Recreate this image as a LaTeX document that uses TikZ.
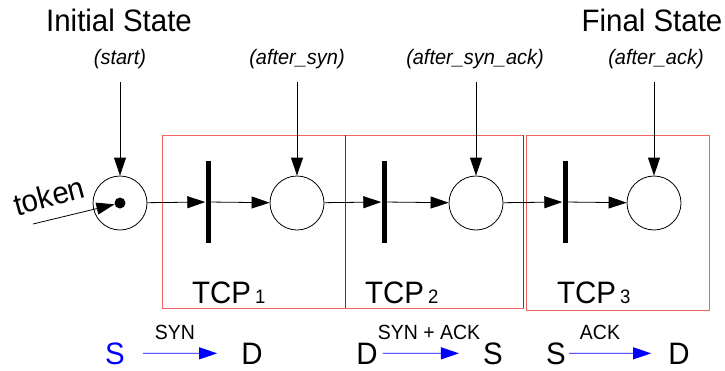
\documentclass[tikz,border=0pt]{standalone}
\usepackage{fontspec}
\setmainfont{Liberation Sans}[FakeStretch=0.95]
\usetikzlibrary{arrows.meta}
\definecolor{lightred}{RGB}{240,100,100}
\definecolor{darkred}{RGB}{225,0,0}
\tikzset{
  place/.style={circle,draw,line width=0.8pt,minimum size=54pt,inner sep=0pt},
  trans/.style={rectangle,fill=black,minimum width=5pt,minimum height=82pt,inner sep=0pt},
  arc/.style={-{Triangle[length=18pt,width=12pt]},line width=0.8pt},
  msgarc/.style={-{Triangle[length=18pt,width=12pt]},line width=0.8pt,blue},
  big/.style={font=\fontsize{31}{36}\selectfont,inner sep=0pt},
  lab/.style={font=\fontsize{21}{24}\selectfont\itshape,inner sep=0pt},
  msg/.style={font=\fontsize{20.5}{24}\selectfont,inner sep=0pt},
  boxl/.style={draw=lightred,line width=1pt},
  boxd/.style={draw=darkred,line width=0.9pt},
  tokdot/.style={circle,fill=black,minimum size=11pt,inner sep=0pt}
}
\newcommand{\subn}[1]{\hspace{4pt}{\fontsize{19.5}{20}\selectfont #1}}
\begin{document}
\begin{tikzpicture}[x=1pt,y=-1pt]
\useasboundingbox (0,0) rectangle (725,370);
% boxes
\draw[boxl] (162,135) rectangle (345,308);
\draw[boxl] (345,135) rectangle (523,308);
\draw[boxd] (345,135) -- (345,308);
\draw[boxd] (523,135) -- (523,308);
\draw[boxl] (526,135) rectangle (709,310);
% headings
\node[big,anchor=base] (init) at (119,31) {Initial State};
\node[big,anchor=base] (final) at (652,31) {Final State};
\node[lab,anchor=base] (l0) at (120,64) {(start)};
\node[lab,anchor=base] (l1) at (297,64) {(after\_syn)};
\node[lab,anchor=base] (l2) at (475,64) {(after\_syn\_ack)};
\node[lab,anchor=base] (l3) at (656,64) {(after\_ack)};
% places and transitions
\node[place] (p0) at (120,203) {};
\node[tokdot] (dot) at (120,203) {};
\node[trans] (t1) at (208,202) {};
\node[place] (p1) at (297,203) {};
\node[trans] (t2) at (384,202) {};
\node[place] (p2) at (476,203) {};
\node[trans] (t3) at (565,202) {};
\node[place] (p3) at (654,203) {};
% vertical arrows
\coordinate (a0) at (120,82);
\coordinate (a1) at (297,82);
\coordinate (a2) at (476,82);
\coordinate (a3) at (654,82);
\draw[arc] (a0) -- (p0.north);
\draw[arc] (a1) -- (p1.north);
\draw[arc] (a2) -- (p2.north);
\draw[arc] (a3) -- (p3.north);
% horizontal arcs
\draw[arc] (p0) -- (t1);
\draw[arc] (t1) -- (p1);
\draw[arc] (p1) -- (t2);
\draw[arc] (t2) -- (p2);
\draw[arc] (p2) -- (t3);
\draw[arc] (t3) -- (p3);
% token
\node[big,rotate=15] (tok) at (49,196) {token};
\coordinate (tk) at (33,224);
\draw[arc] (tk) -- (dot);
% TCP labels
\node[big,anchor=base west] (tcp1) at (192,303) {TCP\subn{1}};
\node[big,anchor=base west] (tcp2) at (365,303) {TCP\subn{2}};
\node[big,anchor=base west] (tcp3) at (557,303) {TCP\subn{3}};
% messages
\node[big,anchor=base,text=blue] (s0) at (115,364) {S};
\node[big,anchor=base] (d0) at (252,364) {D};
\draw[msgarc,shorten <=18pt,shorten >=24pt] (s0) -- (d0);
\node[msg,anchor=base] (m0) at (175,339) {SYN};
\node[big,anchor=base] (d1) at (367,364) {D};
\node[big,anchor=base] (s1) at (493,364) {S};
\draw[msgarc,shorten <=5pt,shorten >=24pt] (d1) -- (s1);
\node[msg,anchor=base] (m1) at (429,339) {SYN + ACK};
\node[big,anchor=base] (s2) at (556,364) {S};
\node[big,anchor=base] (d2) at (679,364) {D};
\draw[msgarc,shorten <=3pt,shorten >=17pt] (s2) -- (d2);
\node[msg,anchor=base] (m2) at (600,339) {ACK};
\end{tikzpicture}
\end{document}
